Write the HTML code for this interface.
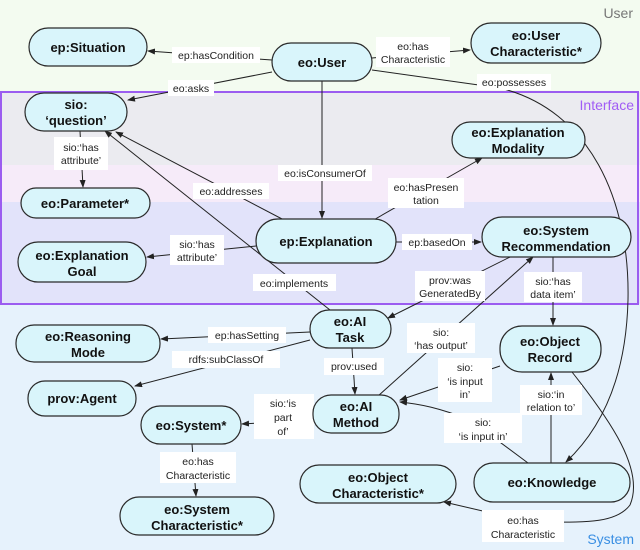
<!DOCTYPE html>
<html><head><meta charset="utf-8"><style>
html,body{margin:0;padding:0;background:#fff}
svg{display:block}
.n{fill:#d9f5fb;stroke:#2a2a2a;stroke-width:1.2}
.t{font-family:"Liberation Sans",Arial,sans-serif;font-weight:bold;font-size:13px;fill:#111;text-anchor:middle}
.l{font-family:"Liberation Sans",Arial,sans-serif;font-size:10.5px;fill:#222;text-anchor:middle}
.e{stroke:#222;stroke-width:1;fill:none}
.lb{fill:#fff}
</style></head><body>
<svg width="640" height="550" viewBox="0 0 640 550" xmlns="http://www.w3.org/2000/svg">
<defs><marker id="a" markerWidth="8" markerHeight="8" refX="7" refY="3" orient="auto" markerUnits="userSpaceOnUse"><path d="M0,0 L8,3 L0,6 z" fill="#222"/></marker></defs>
<rect x="0" y="0" width="640" height="92" fill="#f3fbf0"/>
<rect x="0" y="92" width="640" height="73" fill="#ebebf0"/>
<rect x="0" y="165" width="640" height="37" fill="#f6ebf9"/>
<rect x="0" y="202" width="640" height="102" fill="#e2e3fa"/>
<rect x="0" y="304" width="640" height="246" fill="#e6f2fc"/>
<rect x="1" y="92" width="637" height="212" fill="none" stroke="#9b5cf0" stroke-width="2"/>
<text x="633" y="18" font-family="Liberation Sans,sans-serif" font-size="14" fill="#777" text-anchor="end">User</text>
<text x="634" y="110" font-family="Liberation Sans,sans-serif" font-size="14" fill="#a15cf5" text-anchor="end">Interface</text>
<text x="634" y="544" font-family="Liberation Sans,sans-serif" font-size="14" fill="#3a8fe3" text-anchor="end">System</text>

<path class="e" d="M272,60 L148,51" marker-end="url(#a)"/>
<path class="e" d="M372,58 L470,50" marker-end="url(#a)"/>
<path class="e" d="M372,70 L500,88 C590,110 630,200 628,300 C626,380 600,430 566,462" marker-end="url(#a)"/>
<path class="e" d="M272,72 L128,100" marker-end="url(#a)"/>
<path class="e" d="M322,81 L322,218" marker-end="url(#a)"/>
<path class="e" d="M284,220 L116,132" marker-end="url(#a)"/>
<path class="e" d="M370,222 L482,158" marker-end="url(#a)"/>
<path class="e" d="M80,131 L83,187" marker-end="url(#a)"/>
<path class="e" d="M256,246 L147,257" marker-end="url(#a)"/>
<path class="e" d="M396,242 L481,242" marker-end="url(#a)"/>
<path class="e" d="M330,310 L105,131" marker-end="url(#a)"/>
<path class="e" d="M510,257 L388,318" marker-end="url(#a)"/>
<path class="e" d="M378,396 L533,257" marker-end="url(#a)"/>
<path class="e" d="M553,257 L553,325" marker-end="url(#a)"/>
<path class="e" d="M310,332 L161,339" marker-end="url(#a)"/>
<path class="e" d="M310,340 L135,386" marker-end="url(#a)"/>
<path class="e" d="M352,348 L355,394" marker-end="url(#a)"/>
<path class="e" d="M500,366 L400,400" marker-end="url(#a)"/>
<path class="e" d="M528,463 L470,420 C440,408 420,404 400,402" marker-end="url(#a)"/>
<path class="e" d="M551,463 L551,373" marker-end="url(#a)"/>
<path class="e" d="M314,420 L242,424" marker-end="url(#a)"/>
<path class="e" d="M192,444 L196,496" marker-end="url(#a)"/>
<path class="e" d="M572,372 C610,420 645,470 630,505 C615,525 580,522 530,522 L444,502" marker-end="url(#a)"/>

<rect class="lb" x="172" y="47" width="88" height="16"/><text class="l" x="216" y="59">ep:hasCondition</text>
<rect class="lb" x="376" y="37" width="74" height="30"/><text class="l" x="413" y="50">eo:has</text><text class="l" x="413" y="63">Characteristic</text>
<rect class="lb" x="477" y="74" width="74" height="16"/><text class="l" x="514" y="86">eo:possesses</text>
<rect class="lb" x="168" y="80" width="46" height="16"/><text class="l" x="191" y="92">eo:asks</text>
<rect class="lb" x="278" y="165" width="94" height="16"/><text class="l" x="325" y="177">eo:isConsumerOf</text>
<rect class="lb" x="193" y="183" width="76" height="16"/><text class="l" x="231" y="195">eo:addresses</text>
<rect class="lb" x="388" y="178" width="76" height="30"/><text class="l" x="426" y="191">eo:hasPresen</text><text class="l" x="426" y="204">tation</text>
<rect class="lb" x="54" y="137" width="54" height="33"/><text class="l" x="81" y="151">sio:‘has</text><text class="l" x="81" y="164">attribute’</text>
<rect class="lb" x="170" y="235" width="54" height="30"/><text class="l" x="197" y="248">sio:‘has</text><text class="l" x="197" y="261">attribute’</text>
<rect class="lb" x="402" y="234" width="70" height="16"/><text class="l" x="437" y="246">ep:basedOn</text>
<rect class="lb" x="253" y="274" width="83" height="17"/><text class="l" x="294" y="287">eo:implements</text>
<rect class="lb" x="415" y="271" width="70" height="30"/><text class="l" x="450" y="284">prov:was</text><text class="l" x="450" y="297">GeneratedBy</text>
<rect class="lb" x="524" y="272" width="58" height="30"/><text class="l" x="553" y="285">sio:‘has</text><text class="l" x="553" y="298">data item’</text>
<rect class="lb" x="208" y="327" width="78" height="16"/><text class="l" x="247" y="339">ep:hasSetting</text>
<rect class="lb" x="172" y="351" width="108" height="17"/><text class="l" x="226" y="363">rdfs:subClassOf</text>
<rect class="lb" x="324" y="358" width="60" height="17"/><text class="l" x="354" y="370">prov:used</text>
<rect class="lb" x="407" y="323" width="68" height="30"/><text class="l" x="441" y="336">sio:</text><text class="l" x="441" y="349">‘has output’</text>
<rect class="lb" x="438" y="358" width="54" height="44"/><text class="l" x="465" y="371">sio:</text><text class="l" x="465" y="385">‘is input</text><text class="l" x="465" y="398">in’</text>
<rect class="lb" x="444" y="413" width="78" height="30"/><text class="l" x="483" y="426">sio:</text><text class="l" x="483" y="440">‘is input in’</text>
<rect class="lb" x="520" y="385" width="62" height="30"/><text class="l" x="551" y="398">sio:‘in</text><text class="l" x="551" y="411">relation to’</text>
<rect class="lb" x="254" y="394" width="60" height="45"/><text class="l" x="283" y="407">sio:‘is</text><text class="l" x="283" y="421">part</text><text class="l" x="283" y="435">of’</text>
<rect class="lb" x="160" y="452" width="76" height="31"/><text class="l" x="198" y="465">eo:has</text><text class="l" x="198" y="479">Characteristic</text>
<rect class="lb" x="482" y="510" width="82" height="32"/><text class="l" x="523" y="524">eo:has</text><text class="l" x="523" y="538">Characteristic</text>

<rect class="n" x="29" y="28" width="118" height="38" rx="19"/><text class="t" x="88" y="52">ep:Situation</text>
<rect class="n" x="272" y="43" width="100" height="38" rx="19"/><text class="t" x="322" y="67">eo:User</text>
<rect class="n" x="471" y="23" width="130" height="40" rx="20"/><text class="t" x="536" y="40">eo:User</text><text class="t" x="536" y="56">Characteristic*</text>
<rect class="n" x="25" y="93" width="102" height="38" rx="19"/><text class="t" x="76" y="109">sio:</text><text class="t" x="76" y="125">‘question’</text>
<rect class="n" x="452" y="122" width="133" height="36" rx="18"/><text class="t" x="518" y="137">eo:Explanation</text><text class="t" x="518" y="153">Modality</text>
<rect class="n" x="21" y="188" width="129" height="30" rx="15"/><text class="t" x="85" y="208">eo:Parameter*</text>
<rect class="n" x="256" y="219" width="140" height="44" rx="22"/><text class="t" x="326" y="246">ep:Explanation</text>
<rect class="n" x="482" y="217" width="149" height="40" rx="20"/><text class="t" x="556" y="235">eo:System</text><text class="t" x="556" y="251">Recommendation</text>
<rect class="n" x="18" y="242" width="128" height="40" rx="20"/><text class="t" x="82" y="260">eo:Explanation</text><text class="t" x="82" y="276">Goal</text>
<rect class="n" x="310" y="310" width="81" height="38" rx="19"/><text class="t" x="350" y="326">eo:AI</text><text class="t" x="350" y="342">Task</text>
<rect class="n" x="16" y="325" width="144" height="37" rx="18"/><text class="t" x="88" y="341">eo:Reasoning</text><text class="t" x="88" y="357">Mode</text>
<rect class="n" x="28" y="381" width="108" height="35" rx="17"/><text class="t" x="82" y="403">prov:Agent</text>
<rect class="n" x="500" y="326" width="101" height="46" rx="22"/><text class="t" x="550" y="346">eo:Object</text><text class="t" x="550" y="362">Record</text>
<rect class="n" x="313" y="395" width="86" height="38" rx="18"/><text class="t" x="356" y="411">eo:AI</text><text class="t" x="356" y="427">Method</text>
<rect class="n" x="141" y="406" width="100" height="38" rx="19"/><text class="t" x="191" y="430">eo:System*</text>
<rect class="n" x="474" y="463" width="156" height="39" rx="19"/><text class="t" x="552" y="487">eo:Knowledge</text>
<rect class="n" x="300" y="465" width="156" height="38" rx="19"/><text class="t" x="378" y="482">eo:Object</text><text class="t" x="378" y="498">Characteristic*</text>
<rect class="n" x="120" y="497" width="154" height="38" rx="19"/><text class="t" x="197" y="514">eo:System</text><text class="t" x="197" y="530">Characteristic*</text>
</svg>
</body></html>
